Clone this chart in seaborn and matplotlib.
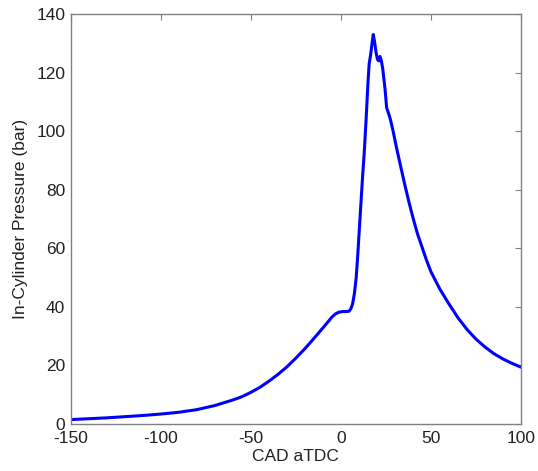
import matplotlib
matplotlib.use("Agg")
import matplotlib.pyplot as plt
import seaborn as sns
import pandas as pd

cad = [-150, -140, -130, -120, -110, -100, -90, -80, -70, -60, -55, -50, -45, -40, -35, -30, -25,
       -20, -15, -10, -7, -5, -3, -1, 1, 3, 4.5, 5.5, 6.5, 7.5, 8.5, 9.3, 10, 11, 12, 13, 14, 15,
       15.7, 16.5, 17.3, 18, 18.7, 19.5, 20.3, 21, 21.7, 22.5, 23.3, 24.5, 25.4, 26.5, 27.5, 29,
       31, 33, 35, 37.5, 40, 42.5, 45, 47.5, 50, 55, 60, 65, 70, 75, 80, 85, 90, 95, 100]
pressure = [1.5, 1.8, 2.1, 2.5, 2.9, 3.4, 4.0, 4.9, 6.3, 8.2, 9.3, 10.8, 12.5, 14.6, 16.9, 19.5,
            22.5, 25.7, 29.2, 32.8, 35.0, 36.5, 37.6, 38.2, 38.4, 38.4, 38.5, 39.3, 41, 44.5, 50,
            57, 64, 74, 84, 93, 104, 116, 123, 126, 130, 133, 130.5, 127, 124.5, 124, 125.5, 124,
            121, 114.5, 108, 106, 104, 100, 94, 88.5, 83, 76.5, 70.5, 65, 60.5, 56, 52, 46, 41,
            36.3, 32.3, 29, 26.3, 24, 22.2, 20.7, 19.4]

df = pd.DataFrame({"CAD aTDC": cad, "In-Cylinder Pressure (bar)": pressure})

sns.set_style("white")
plt.rcParams["font.family"] = ["Liberation Sans", "DejaVu Sans"]
plt.rcParams["axes.unicode_minus"] = False

fig = plt.figure(figsize=(5.38, 4.71), dpi=100)
ax = fig.add_axes([70.7 / 538, 47 / 471, 450.3 / 538, 410 / 471])
sns.lineplot(data=df, x="CAD aTDC", y="In-Cylinder Pressure (bar)", ax=ax,
             color=(0, 0, 1), linewidth=2.2)
ax.set_xlim(-150, 100)
ax.set_ylim(0, 140)
ax.set_xticks([-150, -100, -50, 0, 50, 100])
ax.set_yticks(range(0, 141, 20))
for s in ax.spines.values():
    s.set_color("#808080")
    s.set_linewidth(1.0)
ax.tick_params(direction="in", top=True, right=True, length=4, color="#808080",
               labelsize=12.5, labelcolor="#222222", pad=4, width=0.8)
ax.tick_params(axis="x", pad=5)
ax.set_xlabel("CAD aTDC", fontsize=12.5, color="#222222", labelpad=2)
ax.set_ylabel("In-Cylinder Pressure (bar)", fontsize=12.5, color="#222222", labelpad=6)
fig.savefig("out.png", dpi=100)
